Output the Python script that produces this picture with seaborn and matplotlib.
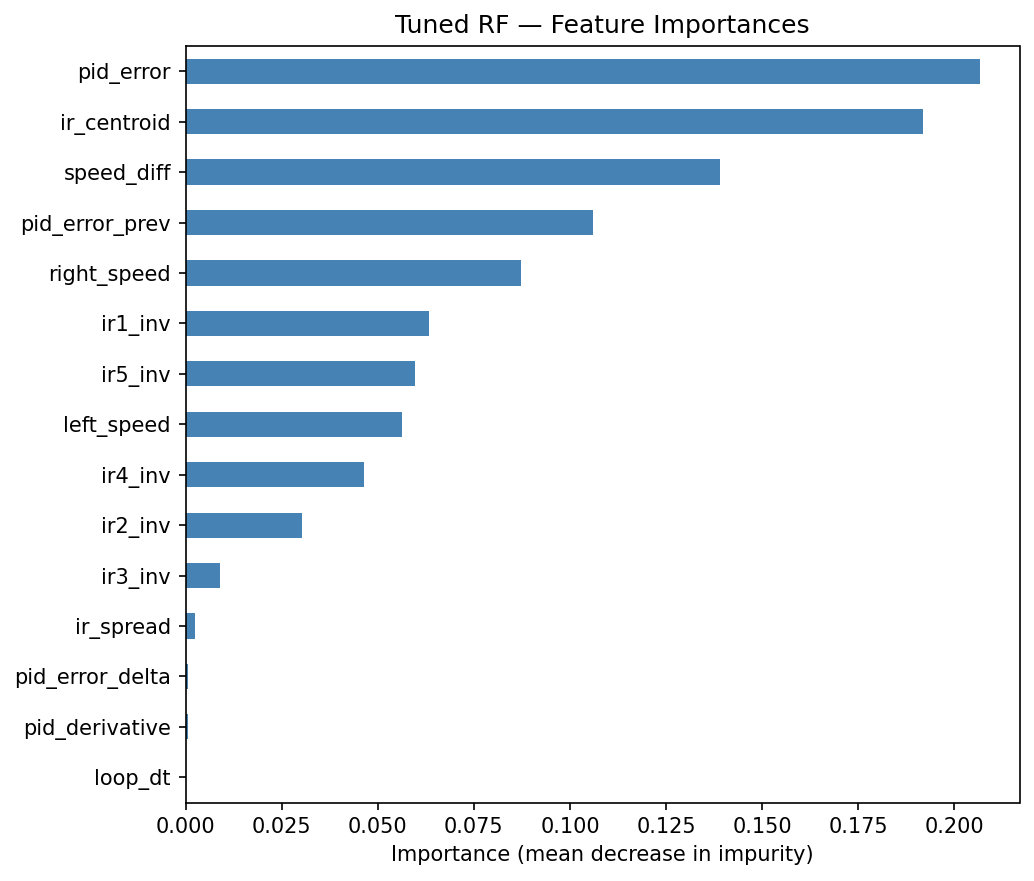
import matplotlib
matplotlib.use("Agg")
import matplotlib.pyplot as plt
import seaborn as sns
import pandas as pd

features = ["pid_error", "ir_centroid", "speed_diff", "pid_error_prev", "right_speed",
            "ir1_inv", "ir5_inv", "left_speed", "ir4_inv", "ir2_inv", "ir3_inv",
            "ir_spread", "pid_error_delta", "pid_derivative", "loop_dt"]
importances = [0.2066, 0.1917, 0.1390, 0.1061, 0.0873, 0.0634, 0.0597, 0.0564,
               0.0465, 0.0303, 0.0091, 0.0026, 0.0007, 0.0007, 0.0001]

df = pd.DataFrame({"feature": features, "importance": importances})

fig, ax = plt.subplots(figsize=(1034 / 150, 881 / 150), dpi=150)
sns.barplot(data=df, y="feature", x="importance", orient="h", color="steelblue",
            width=0.5, saturation=1, ax=ax, order=features)
ax.set_ylim(len(features) - 0.5, -0.5)
ax.set_xlim(0, max(importances) * 1.05)
ax.set_title("Tuned RF \u2014 Feature Importances", fontsize=12)
ax.set_xlabel("Importance (mean decrease in impurity)", fontsize=10)
ax.set_ylabel("")
ax.xaxis.set_major_formatter(matplotlib.ticker.FormatStrFormatter("%.3f"))
ax.set_xticks([0, 0.025, 0.05, 0.075, 0.1, 0.125, 0.15, 0.175, 0.2])
fig.subplots_adjust(left=185.5 / 1034, right=1019.5 / 1034,
                    top=1 - 46 / 881, bottom=1 - 802.5 / 881)
fig.savefig("out.png", dpi=150)
